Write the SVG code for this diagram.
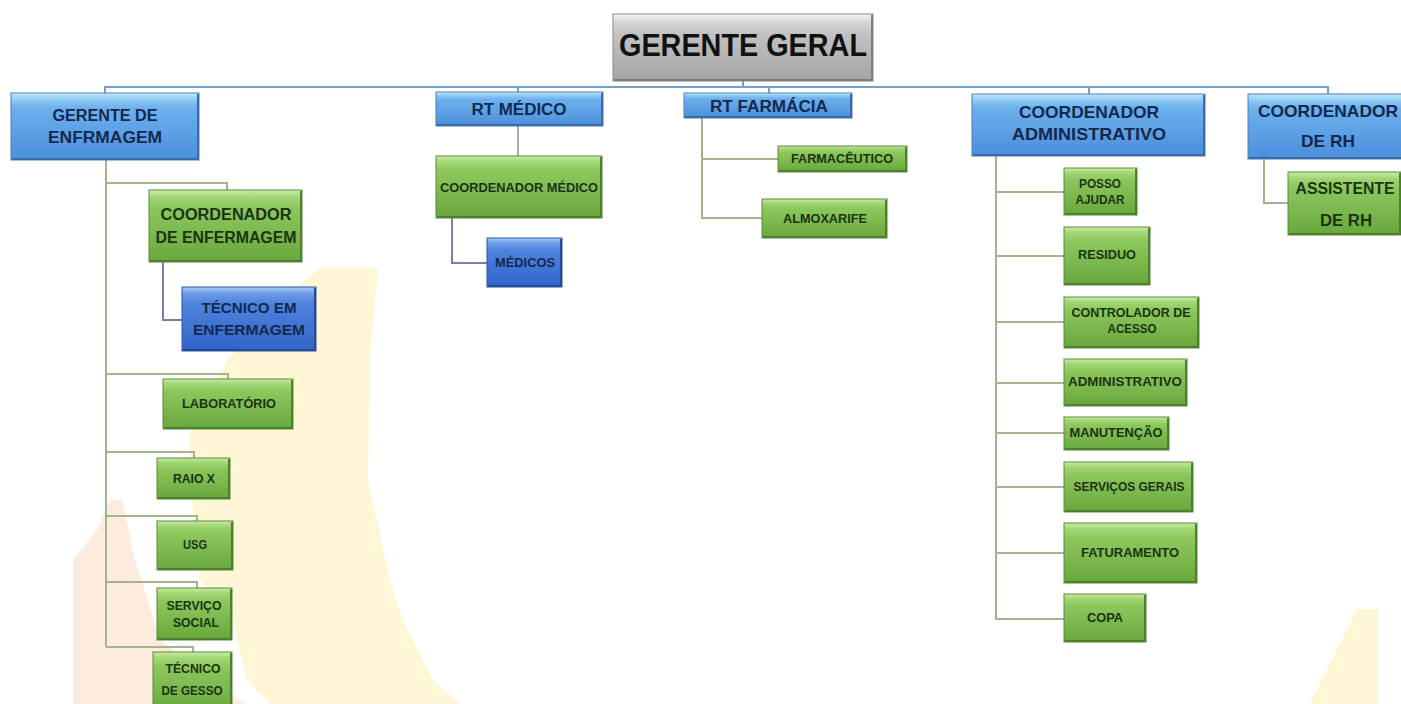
<svg xmlns="http://www.w3.org/2000/svg" width="1401" height="704" viewBox="0 0 1401 704">
<defs>
<linearGradient id="gBlue" x1="0" y1="0" x2="0" y2="1">
<stop offset="0" stop-color="#c4e8fc"/><stop offset="0.1" stop-color="#8fcaf4"/><stop offset="0.22" stop-color="#6db0ec"/><stop offset="1" stop-color="#4b8edb"/>
</linearGradient>
<linearGradient id="gBlueDark" x1="0" y1="0" x2="0" y2="1">
<stop offset="0" stop-color="#a7c9f5"/><stop offset="0.1" stop-color="#6d9de9"/><stop offset="0.25" stop-color="#4f83dc"/><stop offset="1" stop-color="#3264c8"/>
</linearGradient>
<linearGradient id="gGreen" x1="0" y1="0" x2="0" y2="1">
<stop offset="0" stop-color="#cdeca9"/><stop offset="0.1" stop-color="#a2d675"/><stop offset="0.25" stop-color="#8cc75c"/><stop offset="1" stop-color="#68a73c"/>
</linearGradient>
<linearGradient id="gGray" x1="0" y1="0" x2="0" y2="1">
<stop offset="0" stop-color="#f4f4f4"/><stop offset="0.12" stop-color="#d6d6d6"/><stop offset="0.3" stop-color="#c2c2c2"/><stop offset="1" stop-color="#a4a4a4"/>
</linearGradient>
<style>
.blue{fill:url(#gBlue);stroke:#4f7fb8;stroke-width:1}
.bluedark{fill:url(#gBlueDark);stroke:#2f56a0;stroke-width:1}
.green{fill:url(#gGreen);stroke:#5a8a3a;stroke-width:1}
.gray{fill:url(#gGray);stroke:#8a8a8a;stroke-width:1}
.edgeB{fill:none;stroke:#3a6aa8;stroke-width:2}
.edgeG{fill:none;stroke:#4d7f2e;stroke-width:2}
.edgeD{fill:none;stroke:#234b96;stroke-width:2}
.edgeK{fill:none;stroke:#7d7d7d;stroke-width:2}
text{font-family:"Liberation Sans",Arial,sans-serif;font-weight:bold;text-anchor:middle}
.tb{fill:#12294f}
.tg{fill:#1b3311}
.tk{fill:#111111}
.s12{font-size:12px}
.s15{font-size:15px}
.s16{font-size:16px}
.s17{font-size:17px}
.lnB{fill:none;stroke:#729fd6;stroke-width:2}
.lnG{fill:none;stroke:#a4b48f;stroke-width:2}
.lnS{fill:none;stroke:#7581ad;stroke-width:2}
.lnK{fill:none;stroke:#aaaaaa;stroke-width:2}
.wm1{fill:#fff6d6}
.wm2{fill:#fdebdd}
</style>
</defs>
<rect x="0" y="0" width="1401" height="704" fill="#ffffff"/>
<g id="watermark">
<polygon class="wm2" points="110,500 122,500 135,560 160,640 245,704 73,704 73,560 97,530"/>
<polygon class="wm1" points="320,268 378,268 370,360 368,480 390,580 403,620 433,680 460,704 270,704 247,680 233,620 200,580 190,480 190,433 227,360 297,287"/>
<polygon class="wm1" points="1357,609 1378,609 1378,704 1310,704"/>
</g>
<g id="connectors">
<path class="lnB" d="M104,87 H1329 M743,81 V87 M105,87 V93 M518,87 V92 M769,87 V93 M1089,87 V94 M1328,87 V94"/>
<path class="lnG" d="M106,160 V647 M106,183 H227 V190 M106,374 H228 V379 M106,452 H194 V458 M106,516 H197 V521 M106,582 H197 V588 M106,647 H193 V652"/>
<path class="lnS" d="M163,262 V320 H182"/>
<path class="lnK" d="M518,126 V156"/>
<path class="lnS" d="M452,218 V263 H487"/>
<path class="lnG" d="M702,118 V218 H762 M702,159 H778"/>
<path class="lnG" d="M996,156 V619 H1064 M996,192 H1064 M996,256 H1064 M996,322 H1064 M996,383 H1064 M996,433 H1064 M996,487 H1064 M996,553 H1064"/>
<path class="lnG" d="M1264,159 V203 H1288"/>
</g>
<g id="gerente-geral">
<rect class="gray" x="613" y="14" width="260" height="67"/>
<path class="edgeK" d="M872,15 V80 H614"/>
<text class="tk" x="743" y="56" font-size="32" textLength="248" lengthAdjust="spacingAndGlyphs">GERENTE GERAL</text>
</g>
<g id="gerente-enfermagem">
<rect class="blue" x="11" y="93" width="188" height="67"/>
<path class="edgeB" d="M198,94 V159 H12"/>
<text class="tb s16" x="105" y="121" textLength="105" lengthAdjust="spacingAndGlyphs">GERENTE DE</text>
<text class="tb s16" x="105" y="143" textLength="114" lengthAdjust="spacingAndGlyphs">ENFRMAGEM</text>
</g>
<g id="rt-medico">
<rect class="blue" x="436" y="92" width="167" height="34"/>
<path class="edgeB" d="M602,93 V125 H437"/>
<text class="tb s16" x="519" y="115" textLength="95" lengthAdjust="spacingAndGlyphs">RT MÉDICO</text>
</g>
<g id="coordenador-medico">
<rect class="green" x="436" y="156" width="166" height="62"/>
<path class="edgeG" d="M601,157 V217 H437"/>
<text class="tg s12" x="519" y="192" textLength="158" lengthAdjust="spacingAndGlyphs">COORDENADOR MÉDICO</text>
</g>
<g id="medicos">
<rect class="bluedark" x="487" y="238" width="75" height="49"/>
<path class="edgeD" d="M561,239 V286 H488"/>
<text class="tb s12" x="525" y="267" textLength="60" lengthAdjust="spacingAndGlyphs">MÉDICOS</text>
</g>
<g id="rt-farmacia">
<rect class="blue" x="684" y="93" width="168" height="25"/>
<path class="edgeB" d="M851,94 V117 H685"/>
<text class="tb s16" x="769" y="112" textLength="118" lengthAdjust="spacingAndGlyphs">RT FARMÁCIA</text>
</g>
<g id="farmaceutico">
<rect class="green" x="778" y="146" width="129" height="26"/>
<path class="edgeG" d="M906,147 V171 H779"/>
<text class="tg s12" x="842" y="163" textLength="102" lengthAdjust="spacingAndGlyphs">FARMACÊUTICO</text>
</g>
<g id="almoxarife">
<rect class="green" x="762" y="199" width="125" height="39"/>
<path class="edgeG" d="M886,200 V237 H763"/>
<text class="tg s12" x="825" y="223" textLength="84" lengthAdjust="spacingAndGlyphs">ALMOXARIFE</text>
</g>
<g id="coordenador-administrativo">
<rect class="blue" x="972" y="94" width="233" height="62"/>
<path class="edgeB" d="M1204,95 V155 H973"/>
<text class="tb s17" x="1089" y="118" textLength="140" lengthAdjust="spacingAndGlyphs">COORDENADOR</text>
<text class="tb s17" x="1089" y="140" textLength="154" lengthAdjust="spacingAndGlyphs">ADMINISTRATIVO</text>
</g>
<g id="coordenador-rh">
<rect class="blue" x="1248" y="94" width="160" height="65"/>
<path class="edgeB" d="M1249,158 H1407"/>
<text class="tb s17" x="1328" y="117" textLength="140" lengthAdjust="spacingAndGlyphs">COORDENADOR</text>
<text class="tb s17" x="1328" y="147" textLength="54" lengthAdjust="spacingAndGlyphs">DE RH</text>
</g>
<g id="assistente-rh">
<rect class="green" x="1288" y="172" width="113" height="63"/>
<path class="edgeG" d="M1400,173 V234 H1289"/>
<text class="tg s16" x="1345" y="194" textLength="99" lengthAdjust="spacingAndGlyphs">ASSISTENTE</text>
<text class="tg s16" x="1346" y="226" textLength="52" lengthAdjust="spacingAndGlyphs">DE RH</text>
</g>
<g id="coordenador-enfermagem">
<rect class="green" x="149" y="190" width="153" height="72"/>
<path class="edgeG" d="M301,191 V261 H150"/>
<text class="tg s16" x="226" y="220" textLength="131" lengthAdjust="spacingAndGlyphs">COORDENADOR</text>
<text class="tg s16" x="226" y="243" textLength="141" lengthAdjust="spacingAndGlyphs">DE ENFERMAGEM</text>
</g>
<g id="tecnico-enfermagem">
<rect class="bluedark" x="182" y="287" width="134" height="64"/>
<path class="edgeD" d="M315,288 V350 H183"/>
<text class="tb s15" x="249" y="313" textLength="95" lengthAdjust="spacingAndGlyphs">TÉCNICO EM</text>
<text class="tb s15" x="249" y="335" textLength="112" lengthAdjust="spacingAndGlyphs">ENFERMAGEM</text>
</g>
<g id="laboratorio">
<rect class="green" x="163" y="379" width="130" height="50"/>
<path class="edgeG" d="M292,380 V428 H164"/>
<text class="tg s12" x="229" y="408" textLength="94" lengthAdjust="spacingAndGlyphs">LABORATÓRIO</text>
</g>
<g id="raio-x">
<rect class="green" x="157" y="458" width="73" height="41"/>
<path class="edgeG" d="M229,459 V498 H158"/>
<text class="tg s12" x="194" y="483" textLength="42" lengthAdjust="spacingAndGlyphs">RAIO X</text>
</g>
<g id="usg">
<rect class="green" x="157" y="521" width="76" height="49"/>
<path class="edgeG" d="M232,522 V569 H158"/>
<text class="tg s12" x="195" y="549" textLength="24" lengthAdjust="spacingAndGlyphs">USG</text>
</g>
<g id="servico-social">
<rect class="green" x="157" y="588" width="75" height="52"/>
<path class="edgeG" d="M231,589 V639 H158"/>
<text class="tg s12" x="194" y="610" textLength="55" lengthAdjust="spacingAndGlyphs">SERVIÇO</text>
<text class="tg s12" x="196" y="627" textLength="46" lengthAdjust="spacingAndGlyphs">SOCIAL</text>
</g>
<g id="tecnico-gesso">
<rect class="green" x="153" y="652" width="79" height="60"/>
<path class="edgeG" d="M231,653 V711"/>
<text class="tg s12" x="193" y="673" textLength="55" lengthAdjust="spacingAndGlyphs">TÉCNICO</text>
<text class="tg s12" x="192" y="695" textLength="61" lengthAdjust="spacingAndGlyphs">DE GESSO</text>
</g>
<g id="posso-ajudar">
<rect class="green" x="1064" y="168" width="73" height="47"/>
<path class="edgeG" d="M1136,169 V214 H1065"/>
<text class="tg s12" x="1100" y="188" textLength="42" lengthAdjust="spacingAndGlyphs">POSSO</text>
<text class="tg s12" x="1100" y="204" textLength="49" lengthAdjust="spacingAndGlyphs">AJUDAR</text>
</g>
<g id="residuo">
<rect class="green" x="1064" y="227" width="86" height="58"/>
<path class="edgeG" d="M1149,228 V284 H1065"/>
<text class="tg s12" x="1107" y="259" textLength="58" lengthAdjust="spacingAndGlyphs">RESIDUO</text>
</g>
<g id="controlador-acesso">
<rect class="green" x="1064" y="297" width="135" height="51"/>
<path class="edgeG" d="M1198,298 V347 H1065"/>
<text class="tg s12" x="1131" y="317" textLength="119" lengthAdjust="spacingAndGlyphs">CONTROLADOR DE</text>
<text class="tg s12" x="1132" y="333" textLength="49" lengthAdjust="spacingAndGlyphs">ACESSO</text>
</g>
<g id="administrativo">
<rect class="green" x="1064" y="359" width="123" height="47"/>
<path class="edgeG" d="M1186,360 V405 H1065"/>
<text class="tg s12" x="1125" y="386" textLength="114" lengthAdjust="spacingAndGlyphs">ADMINISTRATIVO</text>
</g>
<g id="manutencao">
<rect class="green" x="1064" y="417" width="105" height="33"/>
<path class="edgeG" d="M1168,418 V449 H1065"/>
<text class="tg s12" x="1116" y="437" textLength="93" lengthAdjust="spacingAndGlyphs">MANUTENÇÃO</text>
</g>
<g id="servicos-gerais">
<rect class="green" x="1064" y="462" width="129" height="50"/>
<path class="edgeG" d="M1192,463 V511 H1065"/>
<text class="tg s12" x="1129" y="491" textLength="111" lengthAdjust="spacingAndGlyphs">SERVIÇOS GERAIS</text>
</g>
<g id="faturamento">
<rect class="green" x="1064" y="523" width="133" height="60"/>
<path class="edgeG" d="M1196,524 V582 H1065"/>
<text class="tg s12" x="1130" y="557" textLength="98" lengthAdjust="spacingAndGlyphs">FATURAMENTO</text>
</g>
<g id="copa">
<rect class="green" x="1064" y="594" width="82" height="48"/>
<path class="edgeG" d="M1145,595 V641 H1065"/>
<text class="tg s12" x="1105" y="622" textLength="36" lengthAdjust="spacingAndGlyphs">COPA</text>
</g>
</svg>
